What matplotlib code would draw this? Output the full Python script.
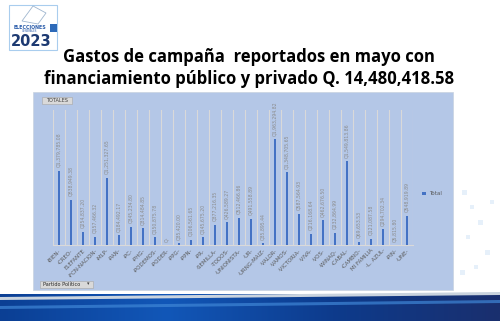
import numpy as np
import matplotlib
matplotlib.use("Agg")
import matplotlib.pyplot as plt
from matplotlib.patches import Rectangle, Polygon
from matplotlib.colors import LinearSegmentedColormap

# ---------------- data ----------------
partidos = ["-BIEN-", "-CREO-", "ELEFANTE", "-FCN-NACION-", "-MLP-", "-PAN-", "-PC-",
            "-PHG-", "-PODEMOS-", "-PODER-", "-PPG-", "-PPN-", "-PR-", "-SEMILLA-",
            "-TODOS-", "-UNIONISTA-", "-UR-", "-URNG-MAIZ-", "-VALOR-", "-VAMOS-",
            "-VICTORIA-", "-VIVA-", "-VOS-", "-WINAQ-", "-CABAL-", "-CAMBIO-",
            "MI FAMILIA", "-L. AZUL-", "-PIN-", "-UNE-"]
totales = [1379785.08, 838949.38, 254837.20, 157466.32, 1251327.65, 184492.17, 345234.80,
           314484.85, 150875.78, 0.0, 35420.00, 106561.65, 145675.20, 377216.35,
           426589.27, 512466.86, 491558.89, 35895.44, 1963294.82, 1348705.65,
           587564.93, 216168.64, 462676.50, 232864.99, 1549813.86, 69653.53,
           121087.58, 294702.34, 5815.80, 548919.89]
titulo = "Gastos de campaña  reportados en mayo con\nfinanciamiento público y privado Q. 14,480,418.58"
serie = "Total"

W, H = 500, 321
fig = plt.figure(figsize=(W / 100, H / 100), dpi=100)
fig.patch.set_facecolor("white")

def fx(px):
    return px / W

def fy(py):
    return 1 - py / H

# background axes (pixel coords, y down)
bg = fig.add_axes([0, 0, 1, 1])
bg.axis("off")

# faint slide pattern on right
for (x0, y0, s) in [(462, 190, 5), (470, 205, 4), (478, 220, 5), (466, 235, 4),
                    (485, 250, 5), (474, 265, 4), (490, 200, 4), (460, 270, 5)]:
    bg.add_patch(Rectangle((x0, y0), s, s, facecolor="#e6f0fa", edgecolor="none"))

# bottom blue band
grad = np.linspace(0, 1, 256).reshape(1, -1)
cmap = LinearSegmentedColormap.from_list("band", ["#0b3f94", "#1257b8", "#0d3b8c", "#1a2f6e"])
bg.imshow(grad, extent=(0, W, 321, 294), aspect="auto", cmap=cmap, zorder=1)
bg.add_patch(Polygon([(0, 297), (W, 292), (W, 295), (0, 300)], closed=True,
                     facecolor="#c9d3de", edgecolor="none", zorder=2))
bg.add_patch(Polygon([(0, 306), (W, 300), (W, 303), (0, 309)], closed=True,
                     facecolor="#3f86d6", edgecolor="none", alpha=0.7, zorder=2))
bg.set_xlim(0, W)
bg.set_ylim(H, 0)

# logo
bg.add_patch(Rectangle((9, 5), 48, 45, facecolor="white", edgecolor="#a9cdee", lw=0.8, zorder=3))
bg.add_patch(Polygon([(22, 21), (33, 6), (46, 13), (38, 24)], closed=True,
                     facecolor="white", edgecolor="#9fb6cf", lw=0.6, zorder=3))
bg.add_patch(Rectangle((50, 24), 7, 8, facecolor="#2c69b8", edgecolor="none", zorder=4))
bg.text(30, 27.5, "ELECCIONES", fontsize=3.4, fontweight="bold", color="#2a5caa",
        ha="center", va="center", zorder=4)
bg.text(30, 31.3, "GENERALES", fontsize=1.9, color="#2a5caa", ha="center", va="center", zorder=4)
bg.text(31, 41.5, "2023", fontsize=10.5, fontweight="bold", color="#1d3a72",
        ha="center", va="center", zorder=4)

# title
bg.text(249, 68, titulo, fontsize=12, fontweight="bold", family="Open Sans",
        ha="center", va="center", linespacing=1.35, color="black", zorder=4)

# chart panel
bg.add_patch(Rectangle((33, 92), 420, 198, facecolor="#b4c7e7", edgecolor="#c8d3e0",
                       lw=0.5, zorder=3))
# TOTALES button
bg.add_patch(Rectangle((42, 97), 30, 6.5, facecolor="#d9d9d9", edgecolor="#a6a6a6", lw=0.4, zorder=4))
bg.text(57, 100.3, "TOTALES", fontsize=3.6, color="#404040", ha="center", va="center", zorder=5)
# Partido Politico button
bg.add_patch(Rectangle((40, 280.5), 53, 7, facecolor="#d9d9d9", edgecolor="#a6a6a6", lw=0.4, zorder=4))
bg.text(43, 284, "Partido Político", fontsize=3.6, color="#262626", ha="left", va="center", zorder=5)
bg.text(88, 284, "▾", fontsize=3.6, color="#404040", ha="center", va="center", zorder=5)
# legend
bg.add_patch(Rectangle((422, 191.5), 4, 3, facecolor="#4472c4", edgecolor="none", zorder=5))
bg.text(429, 193.2, serie, fontsize=4, color="#595959", ha="left", va="center", zorder=5)

# bar chart axes
ax = fig.add_axes([fx(52.7), fy(245.3), fx(360), 135.3 / H])
ax.set_facecolor("none")
x = np.arange(len(partidos))
ax.bar(x, totales, width=0.17, color="#4472c4", zorder=3)
ax.set_xlim(-0.5, len(partidos) - 0.5)
ax.set_ylim(0, 2500000)
for b in np.arange(-0.5, len(partidos), 1.0):
    ax.axvline(b, color="#d9d9d9", lw=0.8, zorder=1)
for s in ["top", "right", "left"]:
    ax.spines[s].set_visible(False)
ax.spines["bottom"].set_color("#d9d9d9")
ax.spines["bottom"].set_linewidth(0.8)
ax.set_yticks([])
ax.set_xticks(x)
ax.set_xticklabels(partidos, rotation=45, ha="right", va="top", rotation_mode="anchor",
                   fontsize=4, color="#595959")
ax.tick_params(axis="x", length=0, pad=2)
for xi, v in zip(x, totales):
    lab = f"Q{v:,.2f}" if v > 0 else "Q-"
    ax.annotate(lab, (xi, v), xytext=(0, 2.5), textcoords="offset points",
                rotation=90, ha="center", va="bottom", fontsize=3.3, color="#8c8c8c")

fig.savefig("out.png", dpi=100)
